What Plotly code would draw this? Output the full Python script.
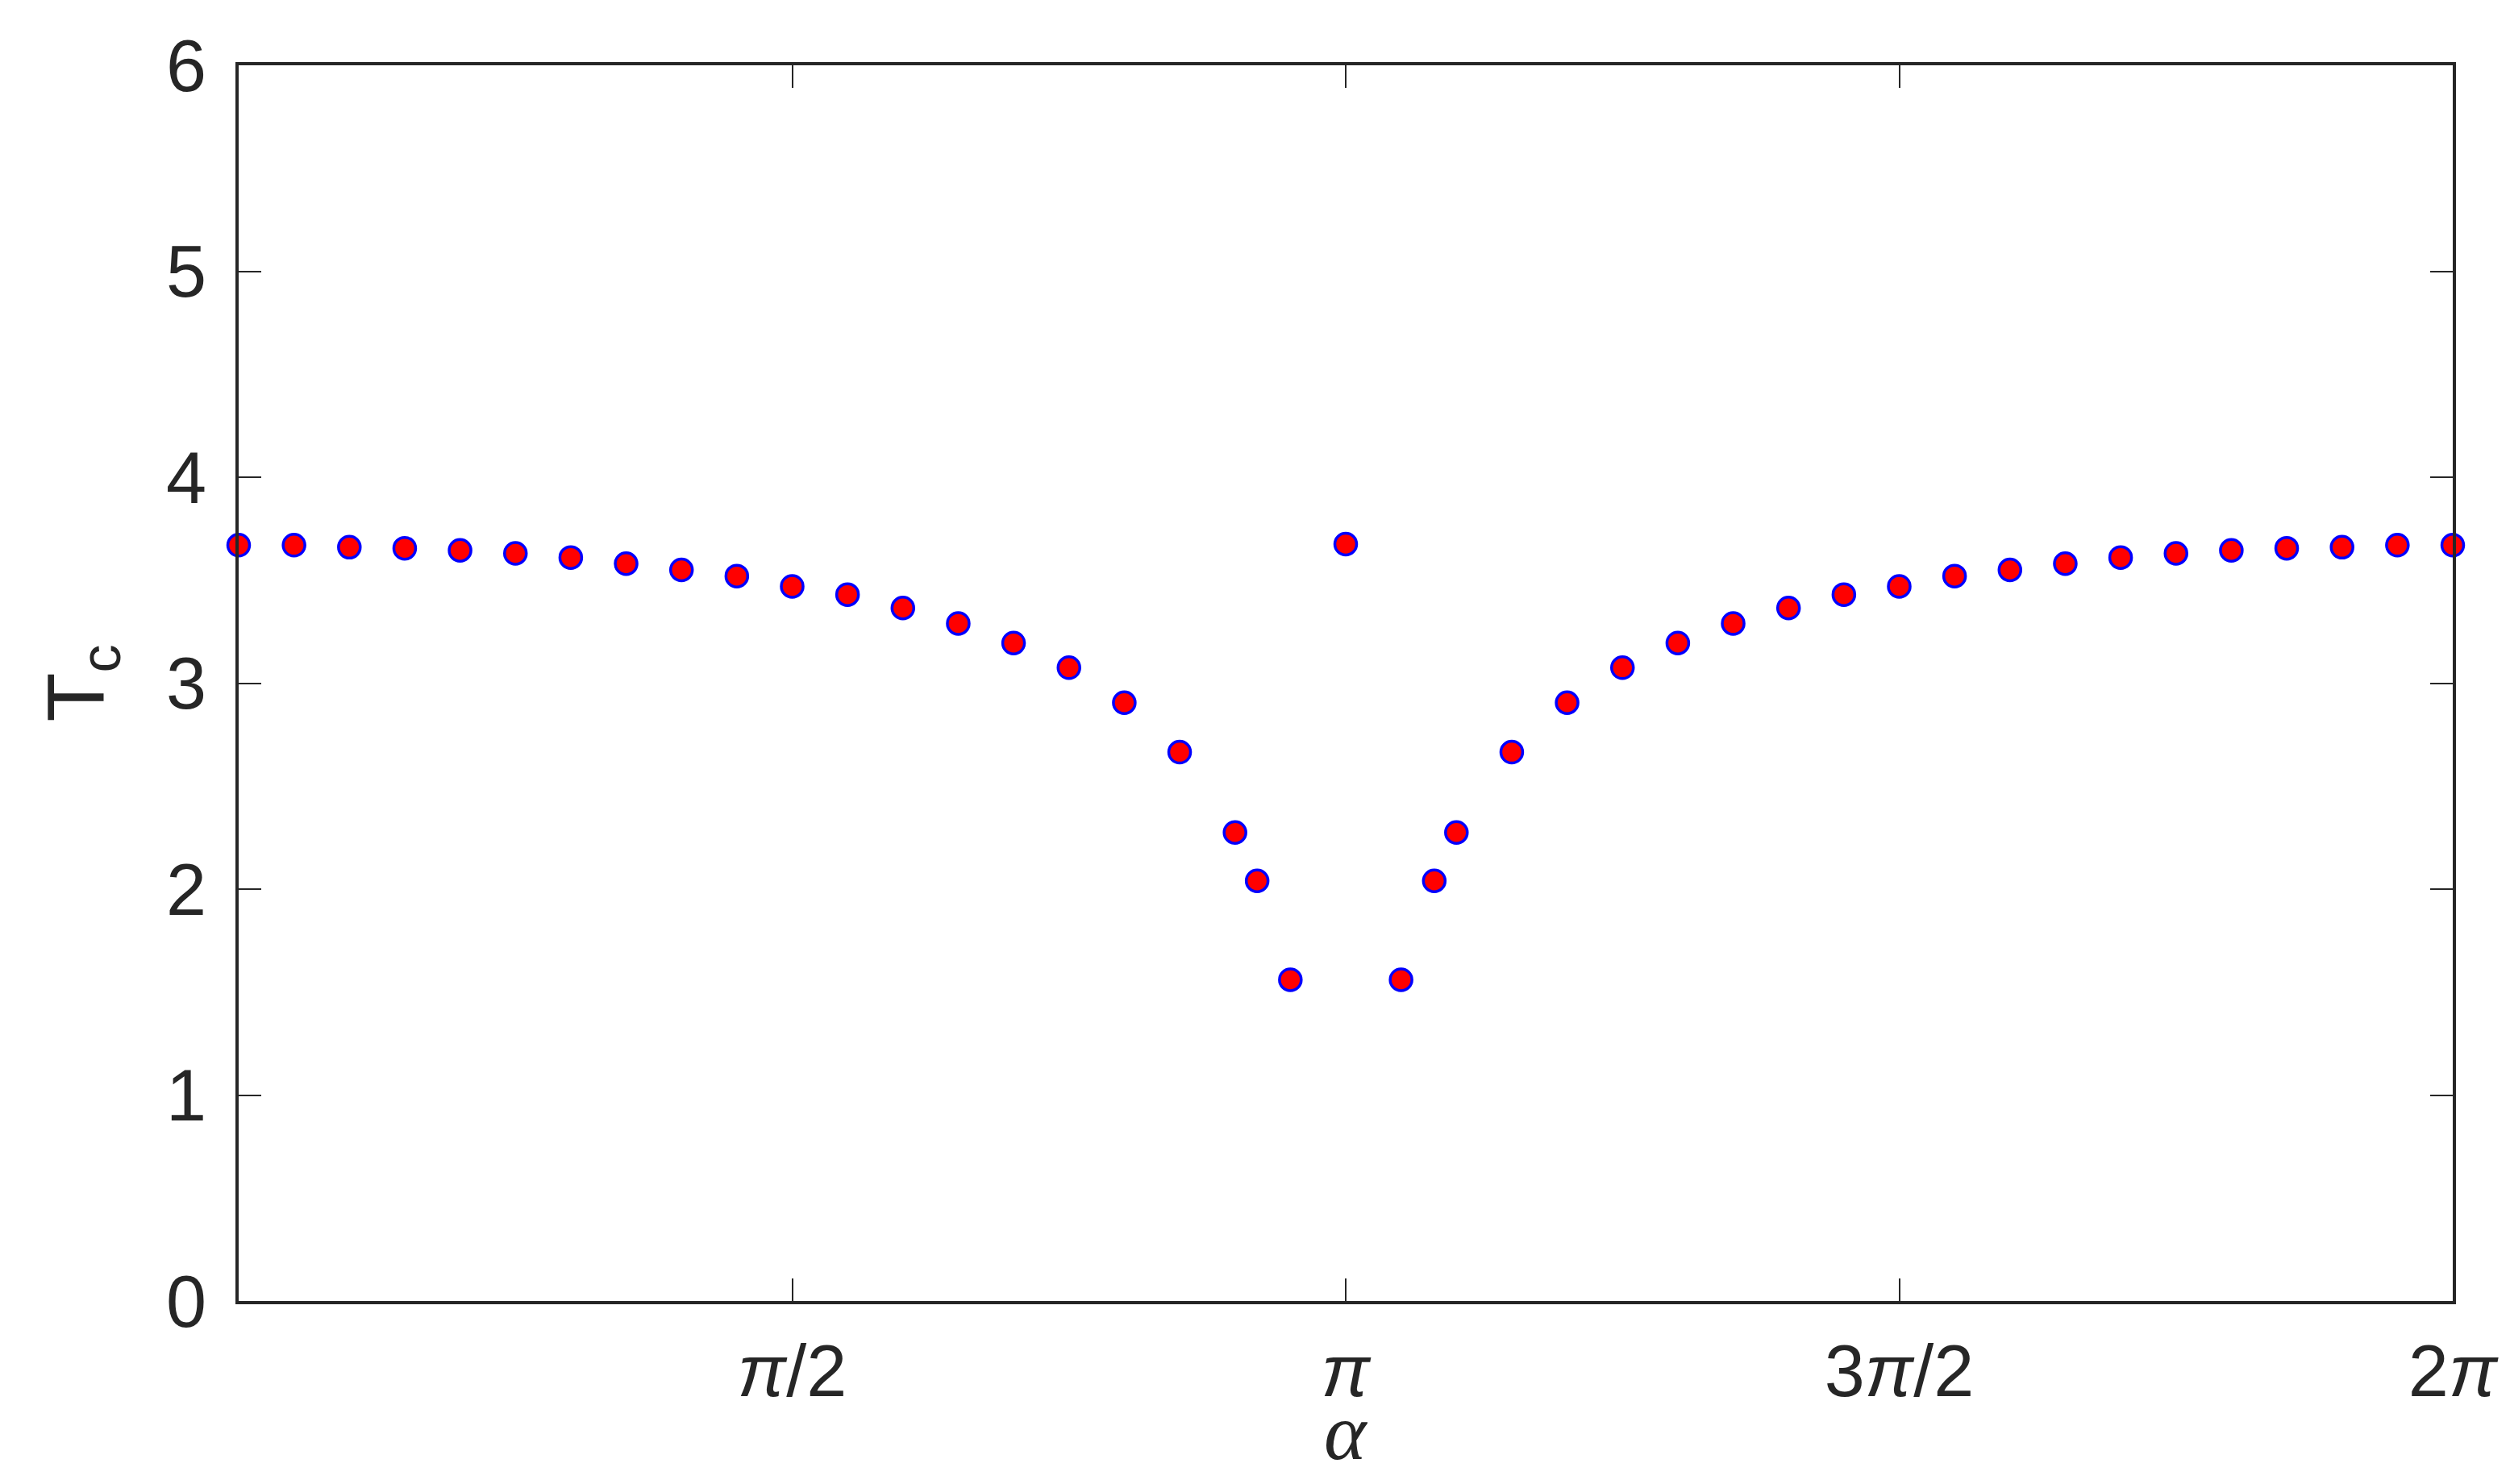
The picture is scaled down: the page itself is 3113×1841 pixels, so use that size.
import numpy as np
import plotly.graph_objects as go

# alpha values in units of pi
alpha_over_pi = [0.00, 0.05, 0.10, 0.15, 0.20, 0.25, 0.30, 0.35, 0.40, 0.45,
                 0.50, 0.55, 0.60, 0.65, 0.70, 0.75, 0.80, 0.85, 0.90, 0.92,
                 0.95, 1.00, 1.05, 1.08, 1.10, 1.15, 1.20, 1.25, 1.30, 1.35,
                 1.40, 1.45, 1.50, 1.55, 1.60, 1.65, 1.70, 1.75, 1.80, 1.85,
                 1.90, 1.95, 2.00]
Tc = [3.67, 3.67, 3.66, 3.655, 3.645, 3.63, 3.61, 3.58, 3.55, 3.52,
      3.47, 3.43, 3.365, 3.29, 3.195, 3.075, 2.905, 2.665, 2.275, 2.04,
      1.56, 3.675, 1.56, 2.04, 2.275, 2.665, 2.905, 3.075, 3.195, 3.29,
      3.365, 3.43, 3.47, 3.52, 3.55, 3.58, 3.61, 3.63, 3.645, 3.655,
      3.66, 3.67, 3.67]

xtick_vals_over_pi = [0.5, 1.0, 1.5, 2.0]
xtick_text = ["<i>π</i>/2", "<i>π</i>", "3<i>π</i>/2", "2<i>π</i>"]
ytick_vals = [0, 1, 2, 3, 4, 5, 6]
x_label = "<i>α</i>"
y_label = "T<sub>c</sub>"

x = [a * np.pi for a in alpha_over_pi]

fig = go.Figure()
fig.add_trace(go.Scatter(
    x=x, y=Tc, mode="markers",
    marker=dict(size=27, color="#ff0000", line=dict(color="#0000ff", width=3.5)),
    cliponaxis=False, showlegend=False,
))

axis_color = "#262626"
font_family = "Liberation Sans, Arial, sans-serif"

fig.update_layout(
    width=3113, height=1841,
    margin=dict(l=288, r=79, t=73, b=235),
    plot_bgcolor="white", paper_bgcolor="white",
    font=dict(family=font_family, color=axis_color, size=90),
)
fig.update_xaxes(
    range=[0, 2 * np.pi],
    tickmode="array",
    tickvals=[v * np.pi for v in xtick_vals_over_pi],
    ticktext=xtick_text,
    ticks="inside", ticklen=28, tickwidth=2, tickcolor=axis_color,
    showline=True, linecolor=axis_color, linewidth=4, mirror="ticks",
    showgrid=False, zeroline=False,
    tickfont=dict(size=90, family=font_family, color=axis_color),
    ticklabelstandoff=6,
)
fig.update_yaxes(
    range=[0, 6],
    tickmode="array",
    tickvals=ytick_vals,
    ticks="inside", ticklen=28, tickwidth=2, tickcolor=axis_color,
    showline=True, linecolor=axis_color, linewidth=4, mirror="ticks",
    showgrid=False, zeroline=False,
    tickfont=dict(size=90, family=font_family, color=axis_color),
    ticklabelstandoff=18,
    title=dict(text=y_label, font=dict(size=100, family=font_family, color=axis_color), standoff=45),
)
fig.add_annotation(
    text=x_label, xref="x", yref="paper", x=np.pi, y=-0.106,
    xanchor="center", yanchor="middle", showarrow=False,
    font=dict(size=100, family="Liberation Serif, serif", color=axis_color),
)

fig.write_html("out.html")
